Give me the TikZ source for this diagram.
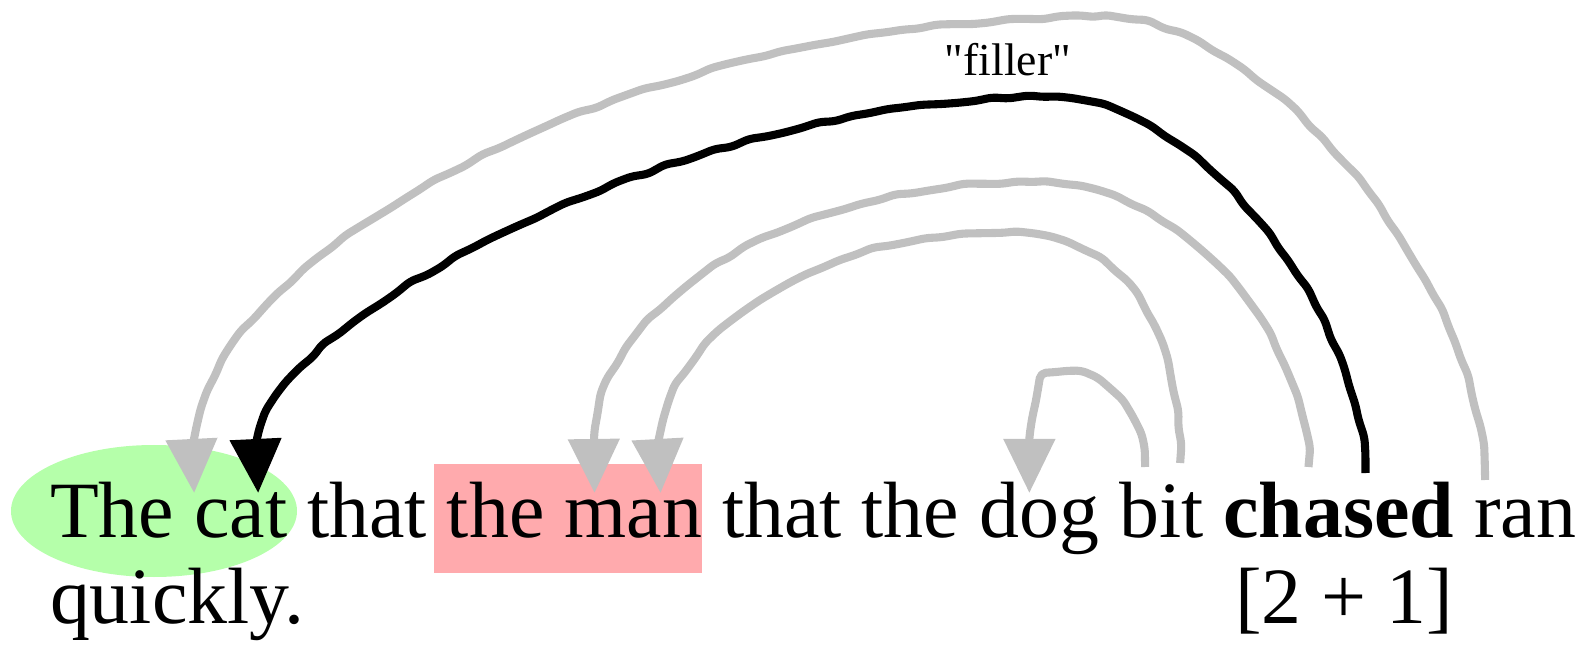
\documentclass[tikz,border=0pt]{standalone}
\usepackage{fontspec}
\setmainfont{Liberation Serif}
\newfontfamily\plainquotes{Liberation Serif}[Ligatures=TeXOff]
\usetikzlibrary{arrows.meta, positioning, backgrounds, decorations.pathmorphing}

\definecolor{catgreen}{RGB}{181,255,170}
\definecolor{manpink}{RGB}{255,170,173}
\definecolor{linkgray}{RGB}{192,192,192}

\tikzset{
    word/.style={inner sep=0pt, outer sep=0pt, font=\fontsize{22.7}{24.5}\selectfont},
    lbl/.style={inner sep=0pt, font=\plainquotes\fontsize{13}{15}\selectfont},
    link/.style={line width=2.3pt, line join=round, rounded corners=1.5pt,
        decoration={random steps, segment length=5pt, amplitude=0.5pt},
        -{Triangle[length=0.54cm, width=0.5cm]}},
    weak/.style={link, draw=linkgray},
    strong/.style={link, draw=black},
}

\begin{document}
\begin{tikzpicture}[x=0.01cm, y=-0.01cm, node distance=5.7pt]
    \useasboundingbox (0,0) rectangle (1585,649);
    \pgfmathsetseed{7}

    % the sentence, word by word
    \node[word, anchor=base west] (The) at (50,537) {The};
    \node[word, base right=of The] (cat) {cat};
    \node[word, base right=of cat] (that) {that};
    \node[word, base right=of that] (the) {the};
    \node[word, base right=of the] (man) {man};
    \node[word, base right=of man] (thatB) {that};
    \node[word, base right=of thatB] (theB) {the};
    \node[word, base right=of theB] (dog) {dog};
    \node[word, base right=of dog] (bit) {bit};
    \node[word, base right=of bit] (chased) {\textbf{chased}};
    \node[word, base right=of chased] (ran) {ran};
    \node[word, anchor=base west] (quickly) at (50,623) {quickly.};
    \node[word, anchor=base west] (count) at (1235,623) {[2 + 1]};

    \begin{scope}[on background layer]
        \fill[catgreen] ([shift={(104,-26)}]The.base west) ellipse [x radius=143, y radius=66];
        \fill[manpink] ([shift={(-13,-73)}]the.base west) rectangle ([shift={(0,36)}]man.base east);
    \end{scope}

    % ran -> the cat
    \draw[weak] decorate {([shift={(11,-57)}]ran.base west) .. controls +(0,-190) and +(170,0) .. (1100,17)
        .. controls +(-470,0) and +(0,-190) .. ([shift={(0,-88)}]cat.base west)} -- ([shift={(0,-44)}]cat.base west);
    % chased -> the cat
    \draw[strong] decorate {([shift={(142,-64)}]chased.base west) .. controls +(0,-150) and +(150,0) .. (1050,97)
        .. controls +(-360,0) and +(0,-120) .. ([shift={(64,-93)}]cat.base west)} -- ([shift={(64,-44)}]cat.base west);
    \node[lbl] (filler) at (1008,60) {"filler"};
    % chased -> the man
    \draw[weak] decorate {([shift={(85,-70)}]chased.base west) .. controls +(0,-140) and +(130,0) .. (1040,182)
        .. controls +(-250,0) and +(0,-140) .. ([shift={(30,-93)}]man.base west)} -- ([shift={(30,-44)}]man.base west);
    % bit -> the man
    \draw[weak] decorate {([shift={(61,-74)}]bit.base west) .. controls +(0,-170) and +(100,0) .. (1000,233)
        .. controls +(-190,0) and +(0,-100) .. ([shift={(96,-93)}]man.base west)} -- ([shift={(96,-44)}]man.base west);
    % bit -> the dog
    \draw[weak] decorate {([shift={(26,-70)}]bit.base west) .. controls +(0,-50) and +(45,0) .. (1062,372)
        .. controls +(-20,0) and +(0,-25) .. ([shift={(50,-90)}]dog.base west)} ++(0,7) -- ([shift={(50,-44)}]dog.base west);
\end{tikzpicture}
\end{document}
